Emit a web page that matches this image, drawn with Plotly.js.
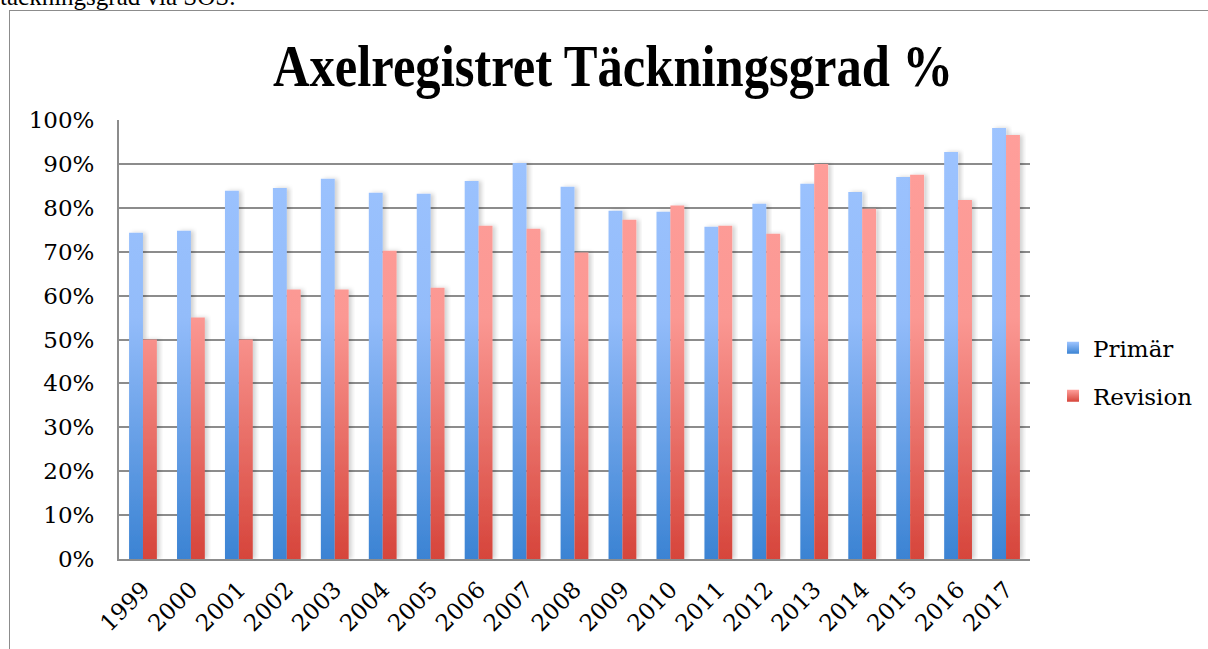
<!DOCTYPE html>
<html>
<head>
<meta charset="utf-8">
<script src="https://cdn.plot.ly/plotly-3.0.1.min.js"></script>
<style>
  html, body { margin: 0; padding: 0; width: 1208px; height: 649px; overflow: hidden; background: #fff; }
  #frame { position: absolute; left: 9px; top: 10px; width: 1400px; height: 900px; border: 1.5px solid #8c8c8c; box-sizing: border-box; }
  #toptext { position: absolute; left: 0px; top: -16px; font-family: 'Liberation Serif', serif; font-size: 25px; line-height: 25px; color: #000; white-space: nowrap; }
  #chart { position: absolute; left: 0; top: 0; width: 1208px; height: 649px; }
</style>
</head>
<body>
<div id="toptext">täckningsgrad via SOS.</div>
<div id="frame"></div>
<div id="chart"></div>
<script>
const years = ['1999','2000','2001','2002','2003','2004','2005','2006','2007','2008','2009','2010','2011','2012','2013','2014','2015','2016','2017'];
const primar = [74.3, 74.8, 83.9, 84.5, 86.6, 83.4, 83.2, 86.1, 90.2, 84.8, 79.3, 79.1, 75.7, 80.9, 85.5, 83.6, 87.0, 92.7, 98.2];
const revision = [50.0, 55.0, 50.0, 61.4, 61.4, 70.2, 61.8, 75.9, 75.2, 69.8, 77.3, 80.5, 75.9, 74.1, 90.0, 79.8, 87.5, 81.8, 96.6];
const seriesNames = ['Primär', 'Revision'];
const titleText = 'Axelregistret Täckningsgrad %';

const serif = 'DejaVu Serif, serif';

const traces = [
  { type: 'bar', x: years, y: primar, name: seriesNames[0], legendgroup: 'a', marker: { color: '#8DB8F7', line: { width: 0 } }, hoverinfo: 'x+y' },
  { type: 'bar', x: years, y: revision, name: seriesNames[1], legendgroup: 'b', marker: { color: '#F8908A', line: { width: 0 } }, hoverinfo: 'x+y' }
];

const layout = {
  width: 1208, height: 649,
  margin: { l: 119, r: 178, t: 120, b: 90, pad: 0 },
  paper_bgcolor: 'rgba(0,0,0,0)',
  plot_bgcolor: 'rgba(0,0,0,0)',
  barmode: 'group',
  bargap: 0.42,
  bargroupgap: 0,
  showlegend: true,
  title: {
    text: titleText,
    font: { family: 'Liberation Serif, serif', size: 60, color: '#000', weight: 'bold' },
    xref: 'container', yref: 'container',
    x: 0.5075, xanchor: 'center',
    y: 0.90, yanchor: 'middle'
  },
  xaxis: {
    type: 'category',
    tickangle: -45,
    tickfont: { family: serif, size: 23, color: '#000' },
    showgrid: false,
    showline: true, linecolor: '#8c8c8c', linewidth: 2,
    ticks: '',
    ticklabelstandoff: 6,
    fixedrange: true
  },
  yaxis: {
    range: [0, 100],
    dtick: 10,
    ticksuffix: '%',
    tickfont: { family: serif, size: 23, color: '#000' },
    showgrid: true, gridcolor: '#8c8c8c', gridwidth: 2,
    showline: true, linecolor: '#8c8c8c', linewidth: 2,
    zeroline: false,
    ticks: '',
    ticklabelstandoff: 18,
    fixedrange: true
  },
  legend: {
    xref: 'container', yref: 'container',
    x: 0.8717, xanchor: 'left',
    y: 0.427, yanchor: 'middle',
    font: { family: serif, size: 23, color: '#000' },
    traceorder: 'grouped',
    tracegroupgap: 15,
    itemwidth: 30,
    bgcolor: 'rgba(0,0,0,0)'
  }
};

Plotly.newPlot('chart', traces, layout, { displayModeBar: false, staticPlot: true }).then(function (gd) {
  const svgNS = 'http://www.w3.org/2000/svg';
  const svg = gd.querySelector('.main-svg');
  let defs = svg.querySelector('defs');
  if (!defs) { defs = document.createElementNS(svgNS, 'defs'); svg.insertBefore(defs, svg.firstChild); }
  const plotH = gd._fullLayout._size.h;
  function grad(id, stops, user) {
    const g = document.createElementNS(svgNS, 'linearGradient');
    g.setAttribute('id', id);
    g.setAttribute('x1', '0'); g.setAttribute('x2', '0');
    if (user) {
      g.setAttribute('gradientUnits', 'userSpaceOnUse');
      g.setAttribute('y1', '0'); g.setAttribute('y2', String(plotH));
    } else {
      g.setAttribute('y1', '0'); g.setAttribute('y2', '1');
    }
    stops.forEach(function (s) {
      const st = document.createElementNS(svgNS, 'stop');
      st.setAttribute('offset', s[0]);
      st.setAttribute('stop-color', s[1]);
      g.appendChild(st);
    });
    defs.appendChild(g);
  }
  const blueStops = [[0, '#9EC4FF'], [0.45, '#93BCFA'], [1, '#3B83D3']];
  const redStops = [[0, '#FF9F9B'], [0.45, '#FB9893'], [1, '#D6453B']];
  grad('gBlue', blueStops, true);
  grad('gRed', redStops, true);
  grad('gBlueL', [[0, '#9EC4FF'], [1, '#3B83D3']], false);
  grad('gRedL', [[0, '#FF9F9B'], [1, '#D6453B']], false);
  const f = document.createElementNS(svgNS, 'filter');
  f.setAttribute('id', 'barShadow');
  f.setAttribute('x', '-20%'); f.setAttribute('y', '-5%'); f.setAttribute('width', '160%'); f.setAttribute('height', '110%');
  const ds = document.createElementNS(svgNS, 'feDropShadow');
  ds.setAttribute('dx', '3'); ds.setAttribute('dy', '0'); ds.setAttribute('stdDeviation', '2');
  ds.setAttribute('flood-color', '#000'); ds.setAttribute('flood-opacity', '0.18');
  f.appendChild(ds);
  defs.appendChild(f);

  const barTraces = gd.querySelectorAll('.barlayer .trace');
  const fills = ['url(#gBlue)', 'url(#gRed)'];
  barTraces.forEach(function (t, i) {
    t.querySelectorAll('path').forEach(function (p) {
      p.style.fill = fills[i % 2];
      p.style.filter = 'url(#barShadow)';
    });
  });
  const legendFills = ['url(#gBlueL)', 'url(#gRedL)'];
  gd.querySelectorAll('.legend .traces').forEach(function (t, i) {
    t.querySelectorAll('.legendpoints path').forEach(function (p) {
      p.style.fill = legendFills[i % 2];
    });
  });
  const tt = gd.querySelector('.gtitle');
  if (tt) {
    tt.setAttribute('textLength', '680');
    tt.setAttribute('lengthAdjust', 'spacingAndGlyphs');
  }
});
</script>
</body>
</html>
